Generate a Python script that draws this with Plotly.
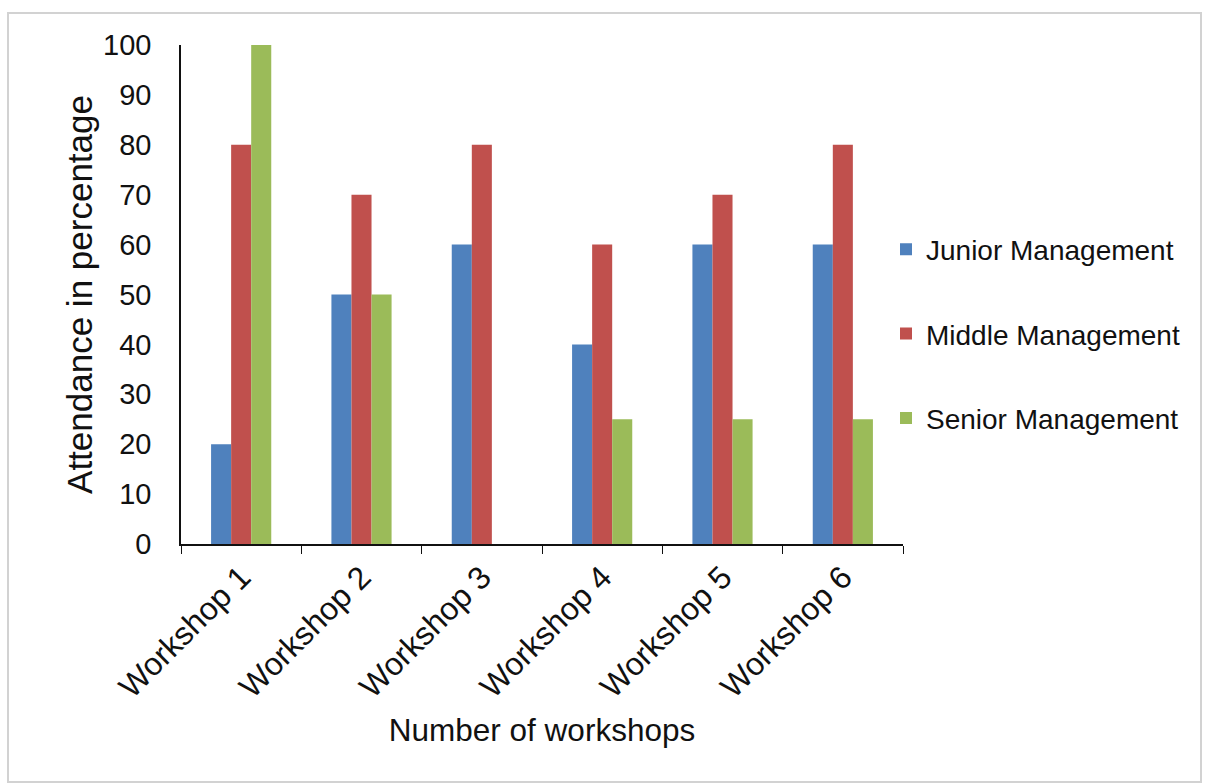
import plotly.graph_objects as go

# Attendance per workshop by management level (percent)
workshops = ["Workshop 1", "Workshop 2", "Workshop 3", "Workshop 4", "Workshop 5", "Workshop 6"]
junior = [20, 50, 60, 40, 60, 60]
middle = [80, 70, 80, 60, 70, 80]
senior = [100, 50, 0, 25, 25, 25]

series = [
    ("Junior Management", junior, "#4F81BD"),
    ("Middle Management", middle, "#C0504D"),
    ("Senior Management", senior, "#9BBB59"),
]

W, H = 1205, 784
L, R, T, B = 181, 302, 45, 240
FONT = "Liberation Sans, Arial, sans-serif"

fig = go.Figure()
for name, vals, color in series:
    fig.add_trace(go.Bar(
        x=workshops, y=vals, name=name, legendgroup=name,
        marker=dict(color=color, line=dict(width=0)),
    ))

pw, ph = W - L - R, H - T - B


def px_x(p):
    return (p - L) / pw


def px_y(p):
    return (H - B - p) / ph


# light frame around the whole chart
fig.add_shape(type="rect", xref="paper", yref="paper",
              x0=px_x(8), x1=px_x(1201), y0=px_y(782), y1=px_y(13),
              line=dict(color="#d2d2d2", width=2), layer="below")

fig.update_layout(
    width=W, height=H,
    margin=dict(l=L, r=R, t=T, b=B, autoexpand=False),
    paper_bgcolor="white", plot_bgcolor="white",
    font=dict(family=FONT, color="#111111"),
    barmode="group", bargap=0.5, bargroupgap=0,
    showlegend=True,
    legend=dict(
        x=px_x(886), xanchor="left", y=px_y(334), yanchor="middle",
        font=dict(size=28, family=FONT, color="#111111"),
        tracegroupgap=45, bgcolor="rgba(0,0,0,0)",
    ),
    xaxis=dict(
        showline=True, linecolor="#111111", linewidth=1.5,
        ticks="outside", tickson="boundaries", ticklen=8, tickcolor="#111111",
        tickangle=-45, tickfont=dict(size=32, family=FONT, color="#111111"),
        showgrid=False, automargin=False,
        title=dict(text="Number of workshops", font=dict(size=31.5, family=FONT, color="#111111"),
                   standoff=15),
    ),
    yaxis=dict(
        range=[0, 100], dtick=10, tick0=0,
        showline=True, linecolor="#111111", linewidth=1.5,
        ticks="", showgrid=False, zeroline=False, automargin=False,
        tickfont=dict(size=29, family=FONT, color="#111111"),
        ticklabelstandoff=22,
        title=dict(text="Attendance in percentage", font=dict(size=35, family=FONT, color="#111111"),
                   standoff=0),
    ),
)

fig.write_html("out.html")
